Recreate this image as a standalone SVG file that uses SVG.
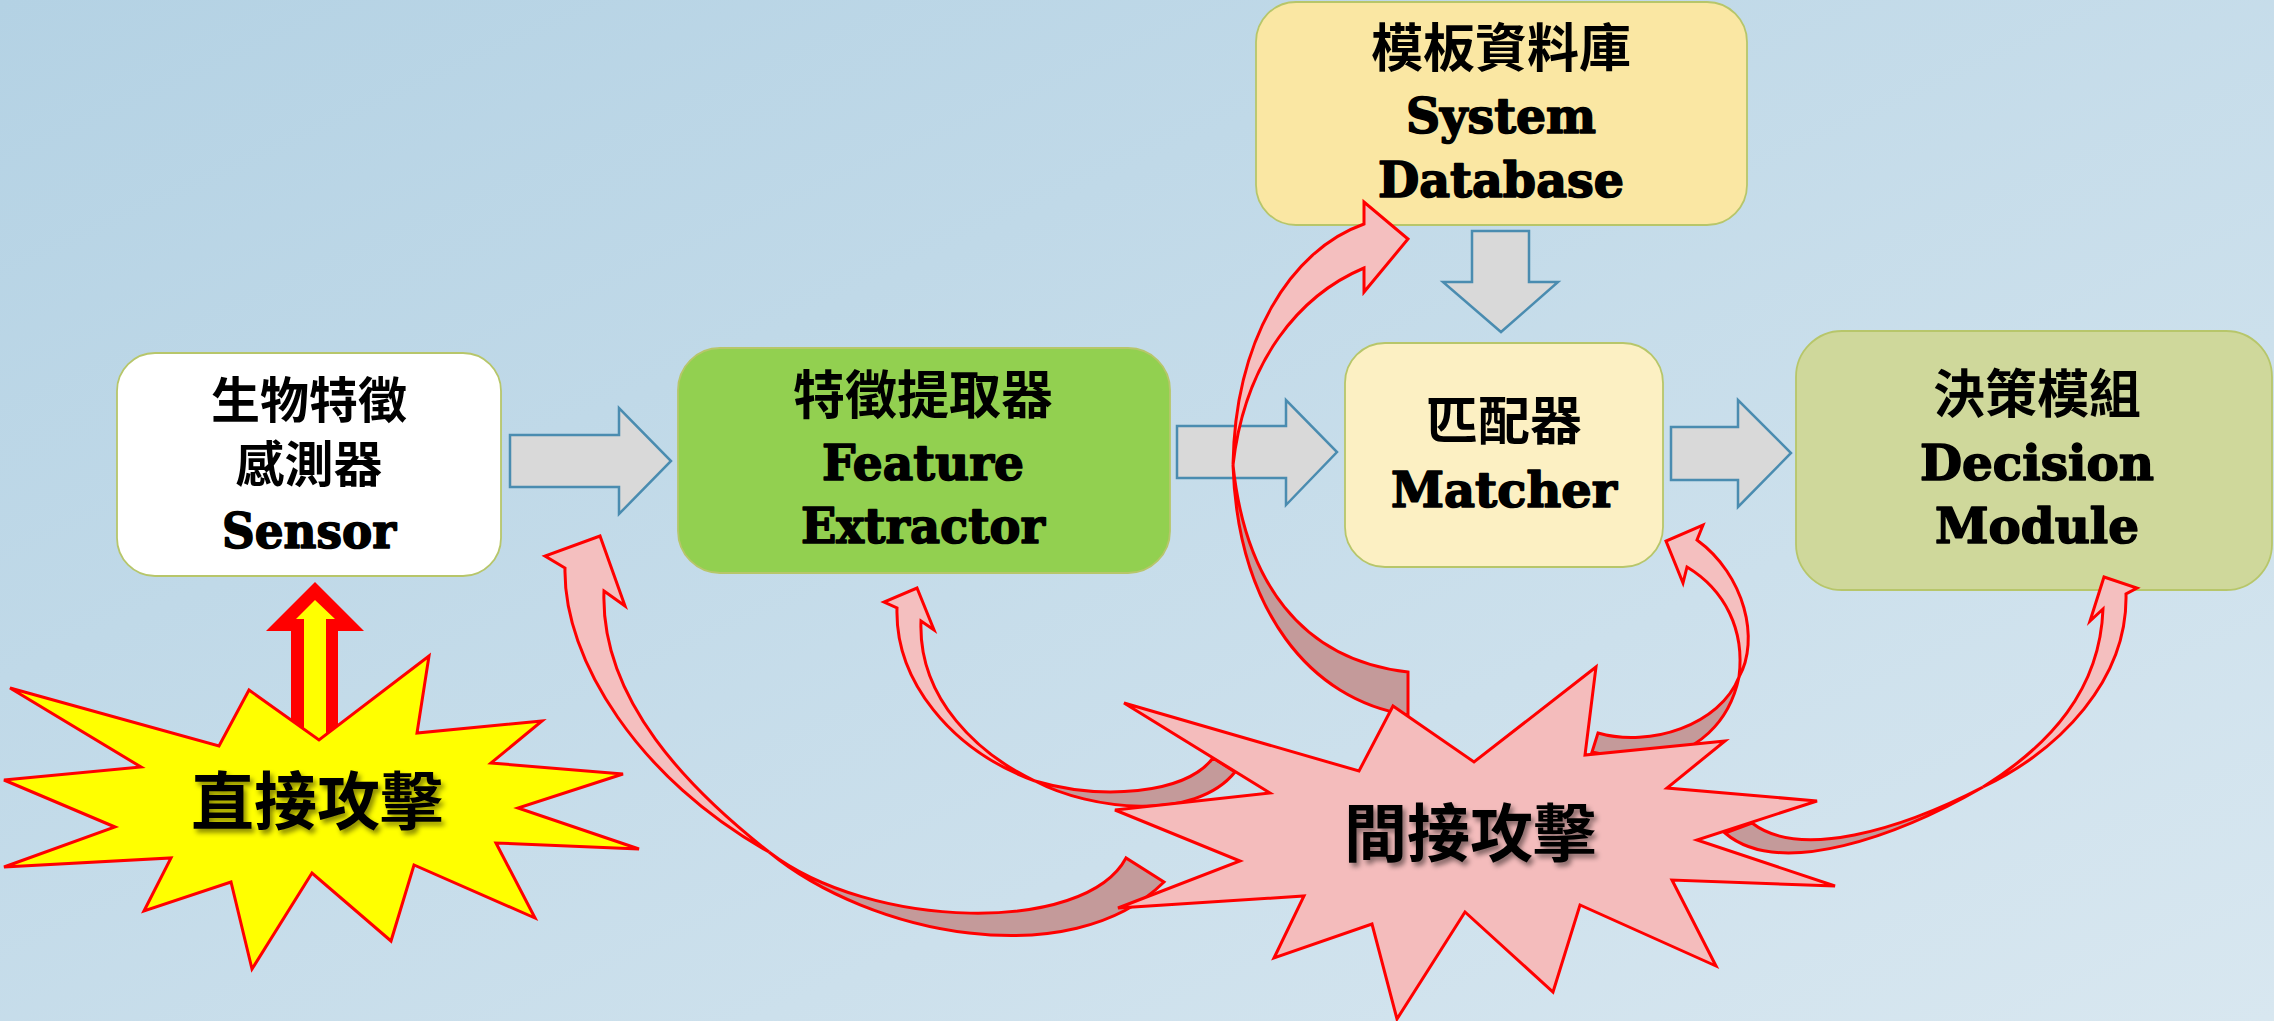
<svg xmlns="http://www.w3.org/2000/svg" width="2274" height="1021" viewBox="0 0 2274 1021">
  <defs>
    <linearGradient id="bg" x1="0" y1="0" x2="1" y2="1">
      <stop offset="0" stop-color="#b4d2e4"/>
      <stop offset="1" stop-color="#d8e7f0"/>
    </linearGradient>
    <filter id="shadow" x="-10%" y="-20%" width="130%" height="150%">
      <feDropShadow dx="3" dy="4" stdDeviation="2.5" flood-color="#000" flood-opacity="0.45"/>
    </filter>
    <style>
      .box { stroke: #b7c66a; stroke-width: 1.8; }
      .cjk { font-family: "Noto Sans CJK TC", "Noto Sans CJK SC", sans-serif; font-weight: 700; font-size: 52px; fill: #000; text-anchor: middle; }
      .cjk-s { font-size: 49px; }
      .lat { font-family: "DejaVu Serif", "Liberation Serif", serif; font-weight: 700; font-size: 48px; fill: #000; stroke: #000; stroke-width: 1.6; stroke-linejoin: round; text-anchor: middle; }
      .attack { font-family: "Noto Sans CJK TC", "Noto Sans CJK SC", sans-serif; font-weight: 700; font-size: 63px; fill: #000; text-anchor: middle; }
      .blk { fill: #d9d9d9; stroke: #4a8cb0; stroke-width: 2.5; stroke-linejoin: miter; }
      .arcL { fill: #f4bfbf; stroke: #ff0000; stroke-width: 3; stroke-linejoin: miter; }
      .arcD { fill: #c49a9a; stroke: #ff0000; stroke-width: 3; stroke-linejoin: miter; }
      .star { stroke: #ff0000; stroke-width: 3; stroke-linejoin: miter; }
    </style>
  </defs>

  <rect x="0" y="0" width="2274" height="1021" fill="url(#bg)"/>

  <g id="sensor">
    <rect class="box" x="117" y="353" width="384" height="223" rx="38" fill="#ffffff"/>
    <text class="cjk cjk-s" x="309" y="418">生物特徵</text>
    <text class="cjk cjk-s" x="309" y="482">感測器</text>
    <text class="lat" x="309" y="548" textLength="174" lengthAdjust="spacingAndGlyphs">Sensor</text>
  </g>

  <g id="feature-extractor">
    <rect class="box" x="678" y="348" width="492" height="225" rx="42" fill="#92d050"/>
    <text class="cjk" x="923" y="414">特徵提取器</text>
    <text class="lat" x="923" y="480" textLength="202" lengthAdjust="spacingAndGlyphs">Feature</text>
    <text class="lat" x="923" y="543" textLength="244" lengthAdjust="spacingAndGlyphs">Extractor</text>
  </g>

  <g id="system-database">
    <rect class="box" x="1256" y="2" width="491" height="223" rx="40" fill="#fae7a3"/>
    <text class="cjk" x="1501" y="67">模板資料庫</text>
    <text class="lat" x="1501" y="133" textLength="190" lengthAdjust="spacingAndGlyphs">System</text>
    <text class="lat" x="1501" y="197" textLength="246" lengthAdjust="spacingAndGlyphs">Database</text>
  </g>

  <g id="matcher">
    <rect class="box" x="1345" y="343" width="318" height="224" rx="40" fill="#fcf0c3"/>
    <text class="cjk" x="1504" y="440">匹配器</text>
    <text class="lat" x="1504" y="507" textLength="226" lengthAdjust="spacingAndGlyphs">Matcher</text>
  </g>

  <g id="decision-module">
    <rect class="box" x="1796" y="331" width="476" height="259" rx="46" fill="#cfd89b"/>
    <text class="cjk" x="2037" y="413">決策模組</text>
    <text class="lat" x="2037" y="480" textLength="234" lengthAdjust="spacingAndGlyphs">Decision</text>
    <text class="lat" x="2037" y="543" textLength="204" lengthAdjust="spacingAndGlyphs">Module</text>
  </g>

  <g id="connectors">
    <!-- block arrows -->
    <polygon class="blk" points="510,435 619,435 619,408 671,461 619,514 619,487 510,487"/>
    <polygon class="blk" points="1177,426 1286,426 1286,400 1337,452 1286,505 1286,478 1177,478"/>
    <polygon class="blk" points="1671,427 1738,427 1738,400 1791,453 1738,507 1738,480 1671,480"/>
    <polygon class="blk" points="1472,231 1529,231 1529,282 1558,282 1501,332 1443,282 1472,282"/>

    <!-- direct attack arrow -->
    <polygon fill="#ff0000" points="315,582 364,631 338,631 338,745 291,745 291,631 266,631"/>
    <polygon fill="#ffff00" points="315,600 335,619 326,619 326,740 304,740 304,619 296,619"/>

    <!-- indirect attack: to sensor -->
    <path class="arcD" d="M769,852 C870,935 1070,975 1164,882 L1126,858 C1085,935 870,930 769,852 Z"/>
    <path class="arcL" d="M604,591 L625,606 L600,536 L545,556 L565,568 C563,660 640,780 769,852 C690,790 600,700 604,591 Z"/>

    <!-- indirect attack: to feature extractor -->
    <path class="arcD" d="M1035,781 C1090,810 1195,822 1235,772 L1213,758 C1185,795 1100,800 1035,781 Z"/>
    <path class="arcL" d="M921,621 L934,630 L917,588 L884,602 L897,608 C895,680 950,750 1035,781 C980,755 918,700 921,621 Z"/>

    <!-- indirect attack: to database -->
    <path class="arcD" d="M1233,465 C1238,610 1310,700 1408,715 L1408,672 C1300,660 1245,580 1233,465 Z"/>
    <path class="arcL" d="M1364,268 L1364,292 L1408,239 L1364,202 L1364,224 C1290,250 1235,340 1233,465 C1245,360 1300,295 1364,268 Z"/>

    <!-- indirect attack: to matcher -->
    <path class="arcD" d="M1739,677 C1730,720 1700,755 1640,762 L1592,752 L1598,733 C1650,748 1720,725 1739,677 Z"/>
    <path class="arcL" d="M1687,567 L1683,583 L1666,541 L1703,525 L1697,540 C1745,575 1760,640 1739,677 C1745,630 1725,590 1687,567 Z"/>

    <!-- indirect attack: to decision module -->
    <path class="arcD" d="M1983,787 C1900,835 1780,880 1725,833 L1752,823 C1800,860 1900,830 1983,787 Z"/>
    <path class="arcL" d="M2103,609 L2090,621 L2104,577 L2137,588 L2126,594 C2128,680 2060,750 1983,787 C2050,745 2100,690 2103,609 Z"/>
  </g>

  <g id="direct-attack">
    <polygon class="star" fill="#ffff00" points="10,688 219,746 249,690 319,740 429,656 417,733 542,721 491,763 623,774 518,808 639,849 496,843 535,918 414,865 391,941 312,873 252,969 231,882 144,911 171,858 4,867 115,827 4,780 141,767"/>
    <text class="attack" x="317" y="824" filter="url(#shadow)">直接攻擊</text>
  </g>

  <g id="indirect-attack">
    <polygon class="star" fill="#f4bcbc" points="1124,703 1359,771 1393,706 1474,762 1596,667 1585,755 1725,741 1667,788 1817,801 1697,840 1835,886 1672,880 1716,966 1580,905 1553,992 1465,912 1397,1019 1372,924 1274,958 1304,896 1118,908 1240,861 1115,810 1270,793"/>
    <text class="attack" x="1470" y="856" filter="url(#shadow)">間接攻擊</text>
  </g>
</svg>
